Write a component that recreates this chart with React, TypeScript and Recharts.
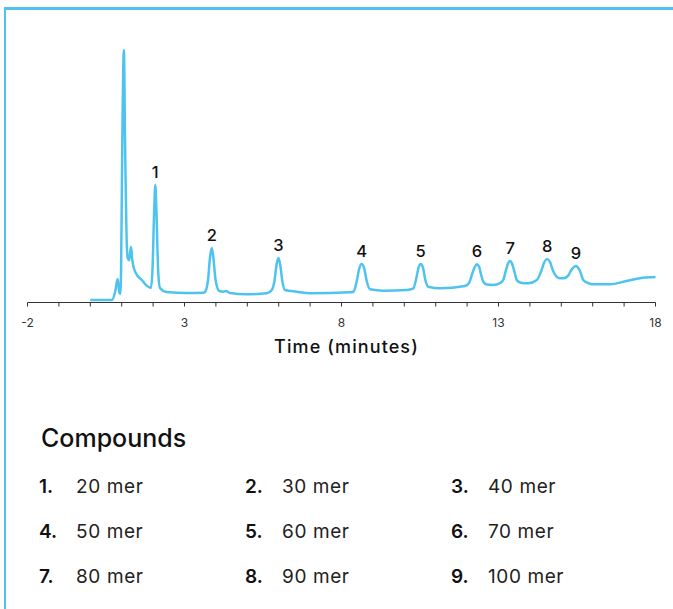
import React from 'react';
import { LineChart, Line, XAxis, YAxis, ReferenceDot } from 'recharts';

// Chromatogram trace (time in minutes, detector signal in arbitrary units)
const times = [
  0.0, 0.69, 0.79, 0.87, 0.92, 0.95, 0.98, 1.02, 1.07, 1.11, 1.15, 1.19, 1.24, 1.27, 1.3, 1.33, 1.37, 1.45, 1.64, 1.81, 1.93,
  1.98, 2.03, 2.07, 2.11, 2.16, 2.22, 2.43, 3.07, 3.6,
  3.65, 3.75, 3.81, 3.87, 3.92, 3.99, 4.11, 4.24, 4.32, 4.45, 4.98, 5.62,
  5.78, 5.87, 5.93, 5.99, 6.05, 6.11, 6.2, 6.57, 7.0, 8.27,
  8.38, 8.48, 8.57, 8.64, 8.72, 8.81, 8.91, 9.33, 10.08,
  10.29, 10.37, 10.46, 10.52, 10.59, 10.67, 10.76, 11.14, 11.93,
  12.06, 12.16, 12.25, 12.31, 12.38, 12.44, 12.52, 12.63, 12.83, 13.05,
  13.15, 13.24, 13.31, 13.37, 13.43, 13.51, 13.59, 13.75, 13.95, 14.22,
  14.35, 14.46, 14.55, 14.64, 14.74, 14.85, 14.96, 15.06,
  15.21, 15.32, 15.47, 15.58, 15.7, 15.85, 16.02, 16.55, 17.08, 17.61, 18.0,
];
const signal = [
  0, 0, 8, 21, 8, 6, 30, 160, 250, 150, 70, 42, 40, 48, 53, 42, 34, 27, 20, 14, 12,
  30, 85, 115, 85, 30, 12, 8, 7, 7.3,
  8, 20, 42, 52, 42, 20, 9, 8.3, 9, 7, 5.7, 6.7,
  10, 20, 35, 42, 35, 20, 10, 8.3, 6.7, 7.7,
  8.3, 18, 32, 36, 32, 18, 10.7, 9.3, 10,
  11.7, 20, 33, 36, 33, 20, 13.3, 11.7, 14,
  17, 26, 33.5, 35.7, 33.5, 26, 18, 15.5, 15, 17,
  20, 30, 37, 39, 36.5, 28, 19.5, 17, 16.7, 20,
  28, 38, 41, 38, 29, 23.3, 21.7, 21.7,
  24, 30, 34, 30, 20, 17, 15.7, 15.7, 19, 22.3, 23,
];

const peakLabels = ['1', '2', '3', '4', '5', '6', '7', '8', '9'];
const peakTimes = [2.07, 3.87, 5.99, 8.64, 10.52, 12.31, 13.37, 14.55, 15.47];
const peakHeights = [115, 52, 42, 36, 36, 35.7, 39, 41, 34];

const xTicks = [-2, -1, 0, 1, 2, 3, 4, 5, 6, 7, 8, 9, 10, 11, 12, 13, 14, 15, 16, 17, 18];
const labeledTicks = [-2, 3, 8, 13, 18];

const compoundNumbers = ['1.', '2.', '3.', '4.', '5.', '6.', '7.', '8.', '9.'];
const compoundNames = ['20 mer', '30 mer', '40 mer', '50 mer', '60 mer', '70 mer', '80 mer', '90 mer', '100 mer'];

const data = times.map((t, i) => ({ t, signal: signal[i] }));

const FONT = 'Inter, "Open Sans", "Noto Sans", sans-serif';
const LINE = '#4FC3F0';

export default function App() {
  const colX = [39, 245, 451];
  const rowY = [487, 532, 577];
  return (
    <div style={{ position: 'absolute', left: 0, top: 0, width: 673, height: 609, overflow: 'hidden', background: '#fff', fontFamily: FONT }}>
      <div
        style={{
          position: 'absolute',
          left: 4,
          top: 7,
          width: 720,
          height: 700,
          borderTop: `3px solid ${LINE}`,
          borderLeft: `2.5px solid ${LINE}`,
          boxSizing: 'border-box',
        }}
      />
      <div style={{ position: 'absolute', left: 0, top: 0 }}>
        <LineChart width={673} height={380} data={data} margin={{ top: 42.5, right: 17.5, bottom: 17.5, left: 27.5 }}>
          <XAxis
            dataKey="t"
            type="number"
            domain={[-2, 18]}
            ticks={xTicks}
            interval={0}
            height={60}
            stroke="#333"
            tickSize={4}
            tickMargin={12}
            tick={{ fontSize: 12, fill: '#333', fontFamily: FONT }}
            tickFormatter={(v: number) => (labeledTicks.includes(v) ? String(v) : '')}
            label={{ value: 'Time (minutes)', position: 'insideBottom', offset: 10, dx: 5, fontSize: 18, fontWeight: 500, fill: '#111', fontFamily: FONT, letterSpacing: 1.1 }}
          />
          <YAxis hide type="number" domain={[-2.5, 257.5]} allowDataOverflow />
          <Line dataKey="signal" type="monotone" stroke={LINE} strokeWidth={2.5} dot={false} isAnimationActive={false} />
          {peakLabels.map((lab, i) => (
            <ReferenceDot
              key={lab}
              x={peakTimes[i]}
              y={peakHeights[i]}
              r={0}
              stroke="none"
              fill="none"
              label={{ value: lab, position: 'top', offset: 7, fontSize: 16.5, fontWeight: 500, fill: '#111', fontFamily: FONT }}
            />
          ))}
        </LineChart>
      </div>
      <div style={{ position: 'absolute', left: 41, top: 422, fontSize: 25, lineHeight: '32px', fontWeight: 500, color: '#111' }}>
        Compounds
      </div>
      {compoundNames.map((name, i) => {
        const c = i % 3;
        const r = Math.floor(i / 3);
        return (
          <React.Fragment key={name}>
            <div style={{ position: 'absolute', left: colX[c], top: rowY[r] - 12, lineHeight: '24px', fontSize: 19, fontWeight: 600, color: '#111' }}>
              {compoundNumbers[i]}
            </div>
            <div style={{ position: 'absolute', left: colX[c] + 37, top: rowY[r] - 12, lineHeight: '24px', fontSize: 19, fontWeight: 400, color: '#222', letterSpacing: 0.6 }}>
              {name}
            </div>
          </React.Fragment>
        );
      })}
    </div>
  );
}
